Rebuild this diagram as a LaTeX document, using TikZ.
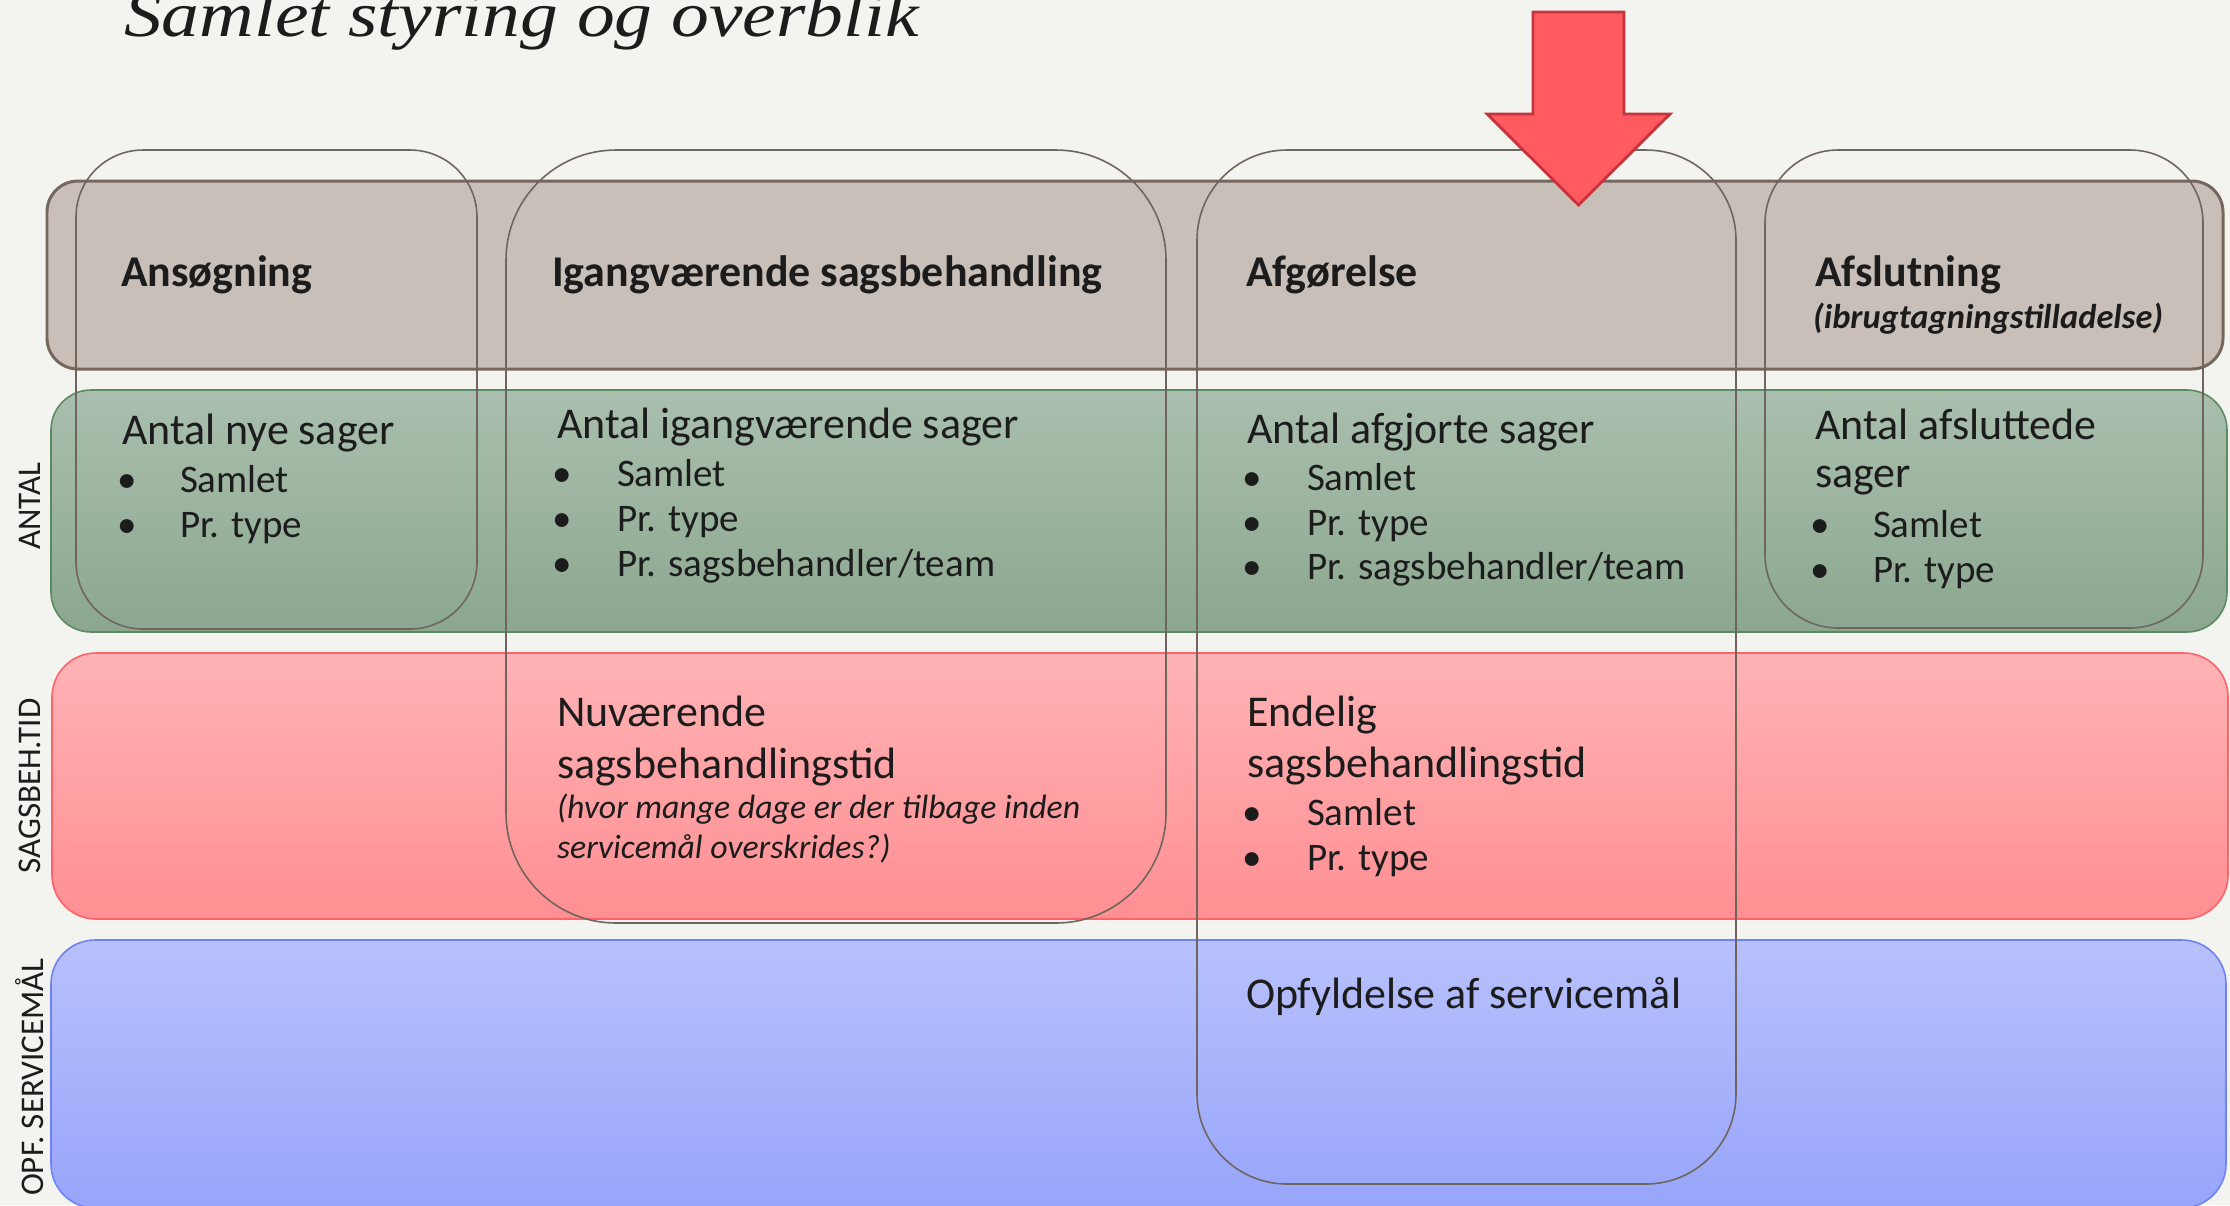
\documentclass[tikz,border=0pt]{standalone}
\usepackage{fontspec}
\setmainfont{Carlito}
\newfontfamily\ttlfont{Liberation Serif}
\usepackage{graphicx}
\definecolor{bg}{HTML}{F3F3EF}
\definecolor{tc}{HTML}{1C1C1C}
\definecolor{barf}{HTML}{C9BFB9}
\definecolor{barb}{HTML}{76675D}
\definecolor{grt}{HTML}{AABFAE}
\definecolor{grbt}{HTML}{8BA78F}
\definecolor{grl}{HTML}{5A8A62}
\definecolor{rdt}{HTML}{FFB3B5}
\definecolor{rdbt}{HTML}{FF8F93}
\definecolor{rdl}{HTML}{FF6268}
\definecolor{blt}{HTML}{B8C1FC}
\definecolor{blbt}{HTML}{97A5FA}
\definecolor{bll}{HTML}{6F82F4}
\definecolor{colc}{HTML}{70655D}
\definecolor{arrf}{HTML}{FF5A60}
\definecolor{arrb}{HTML}{C4343C}
\begin{document}
\begin{tikzpicture}[x=0.01cm,y=-0.01cm,
  txt/.style={anchor=base west, inner sep=0pt, outer sep=0pt, text=tc, font=\fontsize{12.5}{15}\selectfont},
  itm/.style={txt, font=\fontsize{11.1}{13}\selectfont},
  hdr/.style={txt, font=\fontsize{12.5}{15}\selectfont\bfseries},
  note/.style={txt, font=\fontsize{9.6}{12}\selectfont\itshape},
  side/.style={anchor=center, rotate=90, inner sep=0pt, text=tc, font=\fontsize{9.4}{11}\selectfont},
  colbox/.style={draw=colc, line width=0.45pt},
  bandline/.style={line width=0.45pt}
]
\fill[bg] (0,0) rectangle (2230,1205);
\useasboundingbox (0,0) rectangle (2230,1205);
\clip (0,0) rectangle (2230,1205);

% bands
\draw[draw=barb, fill=barf, line width=0.85pt, rounded corners=0.31cm] (47,181) rectangle (2223,369);
\draw[bandline, draw=grl, top color=grt, bottom color=grbt, rounded corners=0.4cm] (51,390) rectangle (2227,632);
\draw[bandline, draw=rdl, top color=rdt, bottom color=rdbt, rounded corners=0.44cm] (52,653) rectangle (2228,919);
\draw[bandline, draw=bll, top color=blt, bottom color=blbt, rounded corners=0.44cm] (51,940) rectangle (2226,1208);

% column outlines
\draw[colbox, rounded corners=0.67cm] (76,150) rectangle (477,629);
\draw[colbox, rounded corners=1.1cm] (506,150) rectangle (1166,923);
\draw[colbox, rounded corners=0.9cm] (1197,150) rectangle (1736,1184);
\draw[colbox, rounded corners=0.73cm] (1765,150) rectangle (2203,628);

% arrow
\draw[draw=arrb, fill=arrf, line width=0.8pt, line join=miter]
  (1533,12) -- (1624,12) -- (1624,114) -- (1670,114) -- (1578.5,205) -- (1487,114) -- (1533,114) -- cycle;

% title
\node[txt, font=\ttlfont\fontsize{18.2}{20}\selectfont\itshape] (title) at (124,36) {\scalebox{1.18}[1]{Samlet styring og overblik}};

% headers
\node[hdr] (h1) at (121,286) {Ansøgning};
\node[hdr] (h2) at (552,286) {Igangværende sagsbehandling};
\node[hdr] (h3) at (1246,286) {Afgørelse};
\node[hdr] (h4) at (1815,286) {Afslutning};
\node[txt, font=\fontsize{9.8}{12}\selectfont\bfseries\itshape] (h4s) at (1813,328) {(ibrugtagningstilladelse)};

% side labels
\node[side] (l1) at (30,506) {ANTAL};
\node[side] (l2) at (30,786) {SAGSBEH.TID};
\node[side] (l3) at (30,1077) {OPF. SERVICEMÅL};

% Ansøgning / antal
\node[txt] (a0) at (122,444) {Antal nye sager};
\node[itm] (a1b) at (117,492) {•};
\node[itm] (a1) at (180,492) {Samlet};
\node[itm] (a2b) at (117,537) {•};
\node[itm] (a2) at (180,537) {Pr. type};

% Igangværende / antal
\node[txt] (b0) at (557,438) {Antal igangværende sager};
\node[itm] (b1b) at (552,486) {•};
\node[itm] (b1) at (617,486) {Samlet};
\node[itm] (b2b) at (552,531) {•};
\node[itm] (b2) at (617,531) {Pr. type};
\node[itm] (b3b) at (552,576) {•};
\node[itm] (b3) at (617,576) {Pr. sagsbehandler/team};

% Afgørelse / antal
\node[txt] (c0) at (1247,443) {Antal afgjorte sager};
\node[itm] (c1b) at (1242,490) {•};
\node[itm] (c1) at (1307,490) {Samlet};
\node[itm] (c2b) at (1242,535) {•};
\node[itm] (c2) at (1307,535) {Pr. type};
\node[itm] (c3b) at (1242,579) {•};
\node[itm] (c3) at (1307,579) {Pr. sagsbehandler/team};

% Afslutning / antal
\node[txt] (d0) at (1815,439) {Antal afsluttede};
\node[txt] (d0b) at (1815,487) {sager};
\node[itm] (d1b) at (1810,537) {•};
\node[itm] (d1) at (1873,537) {Samlet};
\node[itm] (d2b) at (1810,582) {•};
\node[itm] (d2) at (1873,582) {Pr. type};

% Igangværende / sagsbeh.tid
\node[txt] (e0) at (557,726) {Nuværende};
\node[txt] (e1) at (557,778) {sagsbehandlingstid};
\node[note] (e2) at (557,818) {(hvor mange dage er der tilbage inden};
\node[note] (e3) at (557,858) {servicemål overskrides?)};

% Afgørelse / sagsbeh.tid
\node[txt] (f0) at (1247,726) {Endelig};
\node[txt] (f1) at (1247,777) {sagsbehandlingstid};
\node[itm] (f2b) at (1242,825) {•};
\node[itm] (f2) at (1307,825) {Samlet};
\node[itm] (f3b) at (1242,870) {•};
\node[itm] (f3) at (1307,870) {Pr. type};

% Afgørelse / servicemål
\node[txt] (g0) at (1246,1008) {Opfyldelse af servicemål};
\end{tikzpicture}
\end{document}
